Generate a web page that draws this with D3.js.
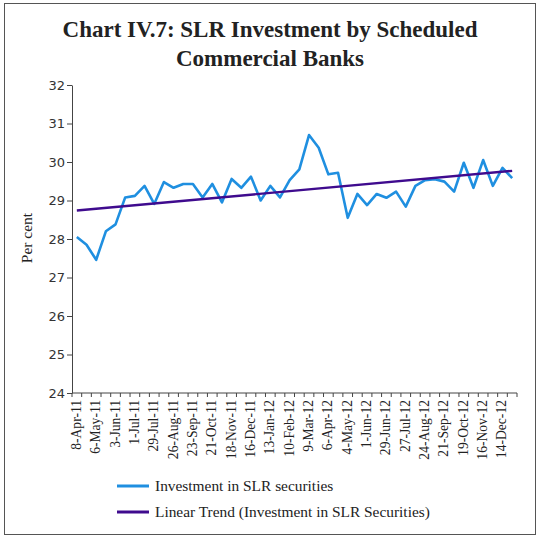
<!DOCTYPE html>
<html>
<head>
<meta charset="utf-8">
<script src="https://cdn.jsdelivr.net/npm/d3@7"></script>
<style>
html,body{margin:0;padding:0;background:#fff;}
svg{display:block;}
</style>
</head>
<body>
<svg id="chart" width="540" height="539"></svg>
<script>
const dates = ["8-Apr-11","22-Apr-11","6-May-11","20-May-11","3-Jun-11","17-Jun-11","1-Jul-11","15-Jul-11","29-Jul-11","12-Aug-11","26-Aug-11","9-Sep-11","23-Sep-11","7-Oct-11","21-Oct-11","4-Nov-11","18-Nov-11","2-Dec-11","16-Dec-11","30-Dec-11","13-Jan-12","27-Jan-12","10-Feb-12","24-Feb-12","9-Mar-12","23-Mar-12","6-Apr-12","20-Apr-12","4-May-12","18-May-12","1-Jun-12","15-Jun-12","29-Jun-12","13-Jul-12","27-Jul-12","10-Aug-12","24-Aug-12","7-Sep-12","21-Sep-12","5-Oct-12","19-Oct-12","2-Nov-12","16-Nov-12","30-Nov-12","14-Dec-12","28-Dec-12"];
const slrValues = [28.05,27.85,27.46,28.2,28.38,29.08,29.12,29.38,28.91,29.48,29.33,29.43,29.43,29.08,29.43,28.95,29.56,29.33,29.62,29.0,29.38,29.08,29.53,29.81,30.70,30.37,29.68,29.72,28.55,29.17,28.88,29.17,29.07,29.23,28.84,29.38,29.53,29.55,29.49,29.23,29.98,29.33,30.05,29.38,29.85,29.58];
const trendEnds = [28.74, 29.77];
const yTicks = [24,25,26,27,28,29,30,31,32];
const seriesNames = ["Investment in SLR securities","Linear Trend (Investment in SLR Securities)"];
const colors = ["#1F8FE0","#3F0B8E"];

(function(){
const svg = d3.select("#chart");
const serif = "'Liberation Serif','DejaVu Serif',serif";
const sans = "'DejaVu Sans','Liberation Sans',sans-serif";

// frame
svg.append("rect").attr("x",4.5).attr("y",3.5).attr("width",531).attr("height",531)
  .attr("fill","none").attr("stroke","#555").attr("stroke-width",1);

// title
const title = svg.append("text").attr("text-anchor","middle").attr("font-family",serif)
  .attr("font-weight","bold").attr("font-size",23).attr("fill","#222");
title.append("tspan").attr("x",270).attr("y",37).text("Chart IV.7: SLR Investment by Scheduled");
title.append("tspan").attr("x",270).attr("y",66).text("Commercial Banks");

const pL = 72, pR = 517, pT = 85, pB = 393;
const x = d3.scaleBand().domain(dates).range([pL,pR]).padding(0);
const y = d3.scaleLinear().domain([24,32]).range([pB,pT]);
const cx = d => x(d) + x.bandwidth()/2;

// y axis
const yAxis = svg.append("g").attr("transform",`translate(${pL},0)`)
  .call(d3.axisLeft(y).tickValues(yTicks).tickSize(5).tickSizeOuter(0).tickFormat(d3.format("d")));
yAxis.select(".domain").attr("stroke","#444");
yAxis.selectAll(".tick line").attr("stroke","#444");
yAxis.selectAll("text").attr("font-family",sans).attr("font-size",13).attr("fill","#333").attr("x",-7);

// x axis: ticks at band boundaries
const xg = svg.append("g");
xg.append("line").attr("x1",pL).attr("x2",pR).attr("y1",pB).attr("y2",pB).attr("stroke","#444");
const bounds = dates.map(d => x(d)).concat([pR]);
xg.selectAll("line.tk").data(bounds).join("line").attr("class","tk")
  .attr("x1",d=>d).attr("x2",d=>d).attr("y1",pB).attr("y2",pB+4).attr("stroke","#444");
xg.selectAll("text").data(dates.filter((d,i)=>i%2===0)).join("text")
  .attr("transform",d=>`translate(${cx(d)+4},${pB+7}) rotate(-90)`)
  .attr("text-anchor","end").attr("font-family",serif).attr("font-size",13.6).attr("fill","#222")
  .text(d=>d);

// y label
svg.append("text").attr("transform","translate(32,238) rotate(-90)").attr("text-anchor","middle")
  .attr("font-family",serif).attr("font-size",15.5).attr("fill","#222").text("Per cent");

// series
const line = d3.line().x((d,i)=>cx(dates[i])).y(d=>y(d));
svg.append("path").datum(slrValues).attr("d",line).attr("fill","none")
  .attr("stroke",colors[0]).attr("stroke-width",2.6).attr("stroke-linejoin","round");

// trend
svg.append("line").attr("x1",cx(dates[0])).attr("y1",y(trendEnds[0]))
  .attr("x2",cx(dates[dates.length-1])).attr("y2",y(trendEnds[1]))
  .attr("stroke",colors[1]).attr("stroke-width",2.4);

// legend
const lg = svg.append("g");
seriesNames.forEach((n,i)=>{
  const yy = 486 + i*26;
  lg.append("line").attr("x1",117).attr("x2",149).attr("y1",yy).attr("y2",yy)
    .attr("stroke",colors[i]).attr("stroke-width",3);
  lg.append("text").attr("x",155).attr("y",yy+5).attr("font-family",serif)
    .attr("font-size",15.4).attr("fill","#222").text(n);
});
})();
</script>
</body>
</html>
